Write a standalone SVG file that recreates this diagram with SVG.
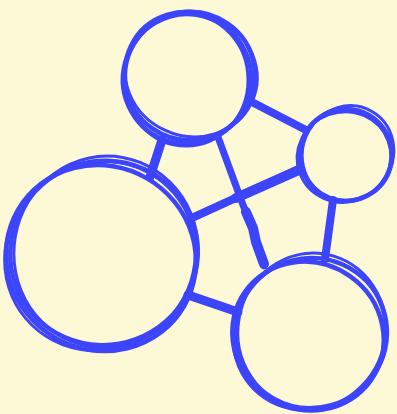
<svg xmlns="http://www.w3.org/2000/svg" width="397" height="414" viewBox="0 0 397 414">
<style>
.ring{fill:none;stroke:#3c44fc;stroke-width:4.5}
.ring2{fill:none;stroke:#3c44fc;stroke-width:3}
.edge{fill:none;stroke:#3c44fc;stroke-linecap:round;stroke-linejoin:round}
</style>
<rect width="397" height="414" fill="#fdf8d6"/>
<g id="edges">
<line class="edge" x1="162" y1="140" x2="150" y2="177" stroke-width="9"/>
<path class="edge" d="M218 137 L243 205 L253 228 L256 242 L264 266" stroke-width="7"/>
<path class="edge" d="M246 212 L253 228 L256 242 L264 264" stroke-width="10"/>
<line class="edge" x1="248" y1="100" x2="306" y2="130" stroke-width="8"/>
<path class="edge" d="M194 217 L240 196 L299 169" stroke-width="8"/>
<path class="edge" d="M236 198 L299 170" stroke-width="10"/>
<line class="edge" x1="333" y1="200" x2="325" y2="259" stroke-width="8"/>
<line class="edge" x1="188" y1="295" x2="238" y2="312" stroke-width="9"/>
</g>
<g id="node-top">
<ellipse class="ring" cx="190" cy="76" rx="65" ry="64" transform="rotate(-10 190 76)"/>
<ellipse class="ring" cx="187" cy="79" rx="64" ry="65" transform="rotate(15 187 79)"/>
<ellipse class="ring2" cx="191" cy="74" rx="67" ry="62" transform="rotate(25 191 74)"/>
<ellipse class="ring2" cx="186" cy="80" rx="62" ry="66"/>
</g>
<g id="node-right">
<ellipse class="ring" cx="346" cy="155" rx="46" ry="46" transform="rotate(10 346 155)"/>
<ellipse class="ring2" cx="344" cy="157" rx="47" ry="45" transform="rotate(-20 344 157)"/>
<ellipse class="ring2" cx="348" cy="153" rx="45" ry="48" transform="rotate(30 348 153)"/>
</g>
<g id="node-left">
<ellipse class="ring" cx="104" cy="253" rx="94" ry="92" transform="rotate(-20 104 253)"/>
<ellipse class="ring" cx="101" cy="258" rx="96" ry="92" transform="rotate(30 101 258)"/>
<ellipse class="ring2" cx="106" cy="252" rx="92" ry="96" transform="rotate(10 106 252)"/>
<ellipse class="ring2" cx="100" cy="256" rx="97" ry="93" transform="rotate(-40 100 256)"/>
</g>
<g id="node-bottom">
<ellipse class="ring" cx="311" cy="333" rx="76" ry="75" transform="rotate(-15 311 333)"/>
<ellipse class="ring" cx="308" cy="336" rx="77" ry="73" transform="rotate(35 308 336)"/>
<ellipse class="ring2" cx="312" cy="331" rx="74" ry="78" transform="rotate(10 312 331)"/>
<ellipse class="ring2" cx="309" cy="334" rx="78" ry="74" transform="rotate(-45 309 334)"/>
</g>
</svg>
